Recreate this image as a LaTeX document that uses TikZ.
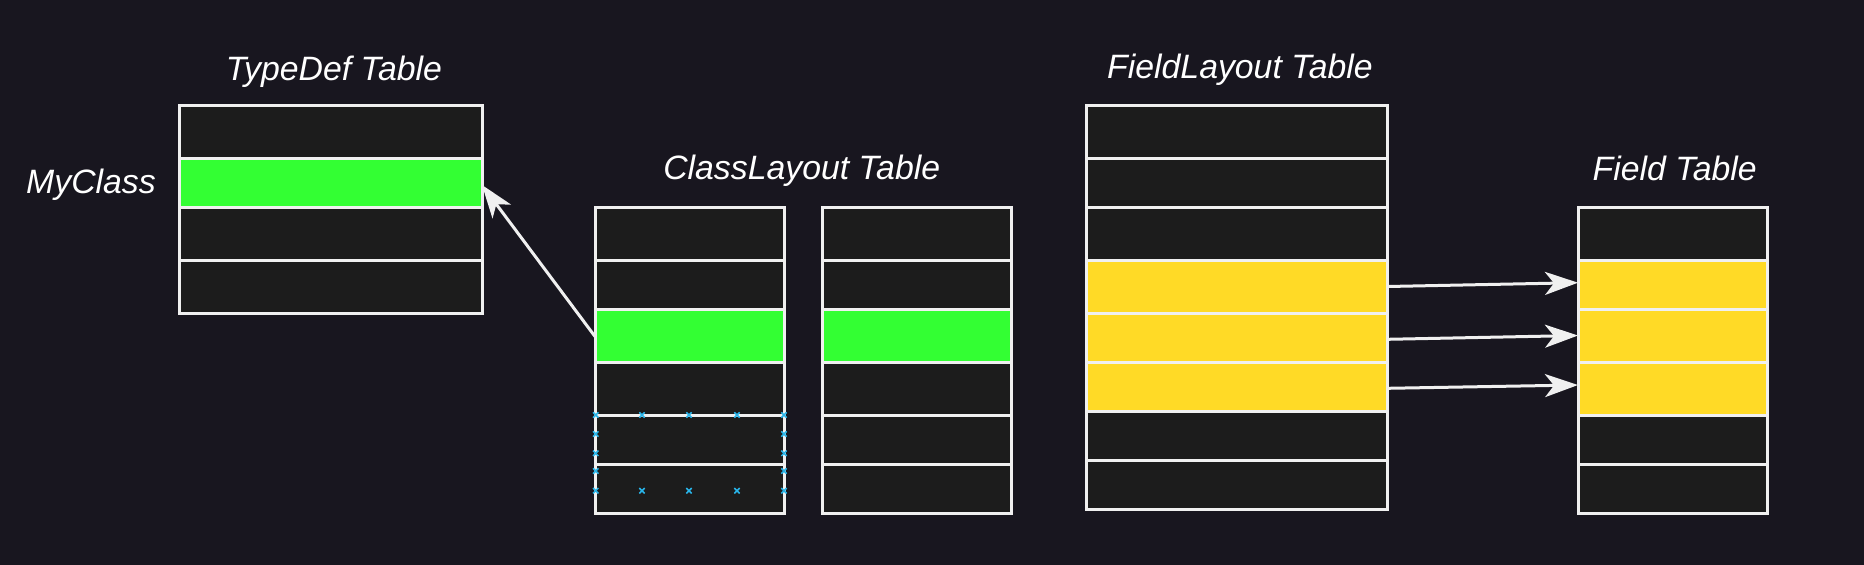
\documentclass[tikz,border=0pt]{standalone}
\usepackage{fontspec}
\setmainfont{Liberation Sans}
\usetikzlibrary{arrows.meta}
\definecolor{bgc}{HTML}{18161F}
\definecolor{rowbg}{HTML}{1C1C1C}
\definecolor{strk}{HTML}{F0F0F0}
\definecolor{mygreen}{HTML}{33FF33}
\definecolor{myyellow}{HTML}{FFDA26}
\definecolor{handle}{HTML}{29B5EA}
\tikzset{
  row/.style={draw=strk, line width=3pt, rectangle, inner sep=0pt, outer sep=0pt},
  ttl/.style={text=white, font=\fontsize{33.8}{40}\selectfont\itshape, anchor=base, inner sep=0pt},
  arr/.style={draw=strk, line width=3pt, -{Stealth[length=33pt,width=23pt,inset=9pt]}},
  hmark/.style={draw=handle, line width=1.5pt},
}
\begin{document}
\begin{tikzpicture}[x=1pt,y=-1pt]
\fill[bgc] (0,0) rectangle (1864,565);
\useasboundingbox (0,0) rectangle (1864,565);

% TypeDef table
\foreach \i/\a/\b/\c in {1/105/158/rowbg,2/158/207/mygreen,3/207/260/rowbg,4/260/313/rowbg}
  \node[row, fill=\c, minimum width=303pt, minimum height={(\b-\a)*1pt}] (td\i) at (330.5,{(\a+\b)/2}) {};

% ClassLayout tables
\foreach \i/\a/\b/\c in {1/207/260/rowbg,2/260/309/rowbg,3/309/362/mygreen,4/362/415/rowbg,5/415/464/rowbg,6/464/513/rowbg}{
  \node[row, fill=\c, minimum width=189pt, minimum height={(\b-\a)*1pt}] (cl\i) at (689.5,{(\a+\b)/2}) {};
  \node[row, fill=\c, minimum width=189pt, minimum height={(\b-\a)*1pt}] (cr\i) at (916.5,{(\a+\b)/2}) {};
}

% FieldLayout table
\foreach \i/\a/\b/\c in {1/105/158/rowbg,2/158/207/rowbg,3/207/260/rowbg,4/260/313/myyellow,5/313/362/myyellow,6/362/411/myyellow,7/411/460/rowbg,8/460/509.5/rowbg}
  \node[row, fill=\c, minimum width=301pt, minimum height={(\b-\a)*1pt}] (fl\i) at (1237,{(\a+\b)/2}) {};

% Field table
\foreach \i/\a/\b/\c in {1/207/260/rowbg,2/260/309/myyellow,3/309/362/myyellow,4/362/415/myyellow,5/415/464/rowbg,6/464/513/rowbg}
  \node[row, fill=\c, minimum width=189pt, minimum height={(\b-\a)*1pt}] (f\i) at (1672.5,{(\a+\b)/2}) {};

% selection handles
\foreach \x in {595.7,642,689,737,784}
  \foreach \y in {415,490.7}
    \draw[hmark] (\x-2.7,\y-2.7) -- (\x+2.7,\y+2.7) (\x-2.7,\y+2.7) -- (\x+2.7,\y-2.7);
\foreach \x in {595.7,784}
  \foreach \y in {434,453.3,471}
    \draw[hmark] (\x-2.7,\y-2.7) -- (\x+2.7,\y+2.7) (\x-2.7,\y+2.7) -- (\x+2.7,\y-2.7);

% titles
\node[ttl] (tTD) at (334,80) {TypeDef Table};
\node[ttl] (tMC) at (91,193) {MyClass};
\node[ttl] (tCL) at (801.7,179.5) {ClassLayout Table};
\node[ttl] (tFL) at (1240,78.5) {FieldLayout Table};
\node[ttl] (tF) at (1674.7,180) {Field Table};

% arrows
\draw[arr] ([yshift=-1pt]cl3.west) -- ([yshift=-2.5pt]td2.east);
\draw[arr] (fl4.east) -- ([yshift=1.8pt]f2.west);
\draw[arr] ([yshift=-1.8pt]fl5.east) -- (f3.west);
\draw[arr] ([yshift=-1.8pt]fl6.east) -- ([yshift=3.5pt]f4.west);
\end{tikzpicture}
\end{document}
